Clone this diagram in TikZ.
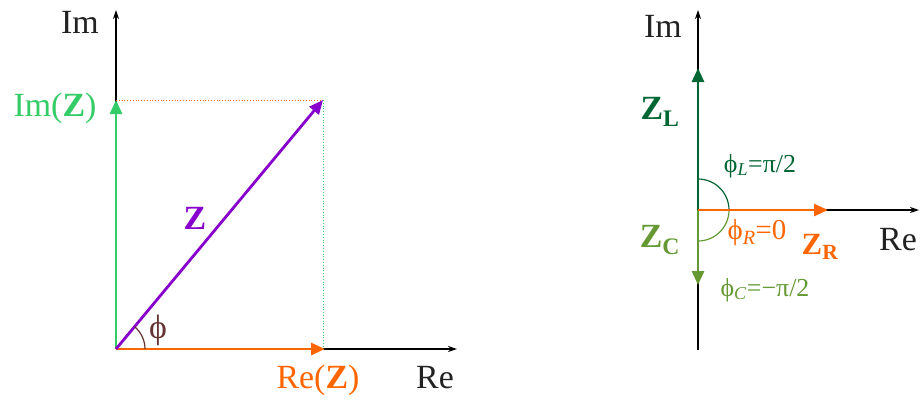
\documentclass[tikz,border=0pt]{standalone}
\usepackage{fontspec}
\setmainfont{Liberation Serif}
\usepackage{xcolor}
\definecolor{ImGreen}{HTML}{33CC66}
\definecolor{ZPurple}{HTML}{8800CC}
\definecolor{ReOrange}{HTML}{FF6600}
\definecolor{PhiBrown}{HTML}{663333}
\definecolor{LGreen}{HTML}{006633}
\definecolor{CGreen}{HTML}{669933}
\definecolor{AxisGray}{HTML}{222222}
\usetikzlibrary{arrows.meta}

\begin{document}
\begin{tikzpicture}[x=1bp,y=-1bp,
  axis/.style={draw=black,line width=1.3bp,-{Stealth[length=9bp,width=6bp]}},
  vec/.style={line width=2.8bp,-{Triangle[length=14bp,width=12bp]}},
  guide/.style={line width=0.8bp,dotted},
  big/.style={inner sep=0pt,font=\fontsize{34}{36}\selectfont},
  small/.style={inner sep=0pt,font=\fontsize{26}{28}\selectfont}]
\useasboundingbox (0,0) rectangle (922,401);
% left diagram
\coordinate (o1) at (116,349);
\coordinate (imtop1) at (116,10);
\coordinate (retip1) at (457,349);
\coordinate (imz) at (116,100);
\coordinate (rez) at (325,349);
\coordinate (z) at (323,100);
\coordinate (zc) at (323,349);
\draw[axis] (o1) -- (imtop1);
\draw[axis] (o1) -- (retip1);
\draw[guide,ReOrange] (imz) -- (z);
\draw[guide,ImGreen] (z) -- (zc);
\draw[vec,ImGreen] (o1) -- (imz);
\draw[vec,ReOrange] (o1) -- (rez);
\draw[vec,ZPurple] (o1) -- (z);
\draw[PhiBrown,line width=1.2bp] ([xshift=29bp]o1) arc[start angle=0,end angle=50,radius=29bp];
\node[big,text=AxisGray] (im1) at (80,22) {Im};
\node[big,text=ImGreen] (imzl) at (55,108) {Im(\textbf{Z})};
\node[big,text=ZPurple] (zl) at (195,218) {\textbf{Z}};
\node[inner sep=0pt,font=\fontsize{34}{36}\selectfont,text=PhiBrown] (phi) at (158,330) {ϕ};
\node[big,text=ReOrange] (rezl) at (318,380) {Re(\textbf{Z})};
\node[big,text=AxisGray] (re1) at (435,378) {Re};
% right diagram
\coordinate (o2) at (698,210);
\coordinate (imtop2) at (698,10);
\coordinate (imbot2) at (698,350);
\coordinate (retip2) at (919,210);
\coordinate (zlt) at (698,68);
\coordinate (zct) at (698,285);
\coordinate (zrt) at (828,210);
\draw[black,line width=1.3bp] (imbot2) -- (o2);
\draw[axis] (o2) -- (imtop2);
\draw[axis] (o2) -- (retip2);
\draw[vec,LGreen] (o2) -- (zlt);
\draw[vec,CGreen] (o2) -- (zct);
\draw[LGreen,line width=1.2bp] ([yshift=31bp]o2) arc[start angle=90,end angle=0,radius=31bp];
\draw[CGreen,line width=1.2bp] ([xshift=31bp]o2) arc[start angle=0,end angle=-90,radius=31bp];
\draw[vec,ReOrange] (o2) -- (zrt);
\node[big,text=AxisGray] (im2) at (663,26) {Im};
\node[big,text=LGreen] (zll) at (660,112) {\textbf{Z\textsubscript{L}}};
\node[small,text=LGreen] (phil) at (760,166) {ϕ\textsubscript{\textit{L}}=π/2};
\node[big,text=CGreen] (zcl) at (660,240) {\textbf{Z\textsubscript{C}}};
\node[inner sep=0pt,font=\fontsize{29}{31}\selectfont,text=ReOrange] (phir) at (757,233) {ϕ\textsubscript{\textit{R}}=0};
\node[inner sep=0pt,font=\fontsize{31}{33}\selectfont,text=ReOrange] (zrl) at (820,247) {\textbf{Z\textsubscript{R}}};
\node[big,text=AxisGray] (re2) at (898,240) {Re};
\node[small,text=CGreen] (phic) at (765,290) {ϕ\textsubscript{\textit{C}}=−π/2};
\end{tikzpicture}
\end{document}
